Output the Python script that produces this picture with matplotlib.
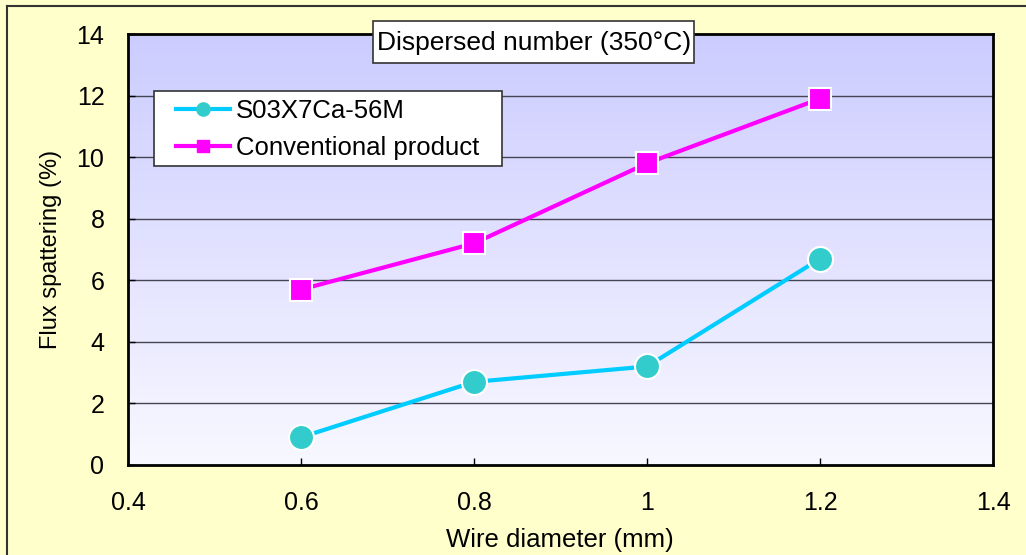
import numpy as np
import matplotlib
matplotlib.use("Agg")
import matplotlib.pyplot as plt
from matplotlib.patches import Rectangle
from matplotlib.lines import Line2D

plt.rcParams['font.family'] = ['Liberation Sans', 'DejaVu Sans']

# Data
wire_diameter = [0.6, 0.8, 1.0, 1.2]
s03x7ca_56m = [0.9, 2.7, 3.2, 6.7]
conventional = [5.7, 7.2, 9.8, 11.9]
series_names = ["S03X7Ca-56M", "Conventional product"]
x_ticks = [0.4, 0.6, 0.8, 1.0, 1.2, 1.4]
x_tick_labels = ["0.4", "0.6", "0.8", "1", "1.2", "1.4"]
y_ticks = [0, 2, 4, 6, 8, 10, 12, 14]
title_text = "Dispersed number (350\u00b0C)"
x_label = "Wire diameter (mm)"
y_label = "Flux spattering (%)"

W, H = 1026, 555
fig = plt.figure(figsize=(W / 100, H / 100), dpi=100)
fig.patch.set_facecolor("#FFFFCC")


def fx(px):
    return px / W


def fy(py):
    return 1 - py / H


# figure border (top and left visible)
fig.add_artist(Line2D([fx(7), fx(7)], [0, fy(6)], transform=fig.transFigure,
                      color="#333333", lw=1.5))
fig.add_artist(Line2D([fx(7), 1], [fy(6), fy(6)], transform=fig.transFigure,
                      color="#333333", lw=1.5))

left, right, top, bottom = 128, 993, 34, 465
ax = fig.add_axes([fx(left), fy(bottom), (right - left) / W, (bottom - top) / H])
ax.set_xlim(0.4, 1.4)
ax.set_ylim(0, 14)

# gradient background
grad = np.linspace(0, 1, 256).reshape(-1, 1)
c_top = np.array([0xCC, 0xCC, 0xFF]) / 255
c_bot = np.array([0xF8, 0xF8, 0xFF]) / 255
img = c_top[None, None, :] * (1 - grad[:, :, None]) + c_bot[None, None, :] * grad[:, :, None]
ax.imshow(img, extent=[0, 1, 0, 1], transform=ax.transAxes, aspect='auto', zorder=0)

for yv in y_ticks[1:-1]:
    ax.axhline(yv, color="#444455", lw=1.0, zorder=1)

ax.plot(wire_diameter, s03x7ca_56m, color="#00CCFF", lw=3.0, marker='o',
        markersize=18, markerfacecolor="#33CCCC", markeredgecolor="white",
        markeredgewidth=1.5, zorder=3)
ax.plot(wire_diameter, conventional, color="#FF00FF", lw=3.0, marker='s',
        markersize=16, markerfacecolor="#FF00FF", markeredgecolor="white",
        markeredgewidth=1.5, zorder=3)

ax.set_xticks(x_ticks)
ax.set_xticklabels(x_tick_labels)
ax.set_yticks(y_ticks)
ax.tick_params(axis='x', direction='in', length=5, width=1, labelsize=18, pad=19)
ax.tick_params(axis='y', direction='in', length=5, width=1, labelsize=18, pad=17)
for s in ax.spines.values():
    s.set_linewidth(2)
    s.set_color("black")

fig.text(fx(560), fy(540), x_label, ha='center', va='center', fontsize=18.5)
fig.text(fx(51), fy(249), y_label, ha='center', va='center', fontsize=17,
         rotation=90)

# title box
fig.add_artist(Rectangle((fx(373), fy(63)), fx(694) - fx(373), fy(21) - fy(63),
                         transform=fig.transFigure, facecolor='white',
                         edgecolor='#333333', lw=1.2, zorder=5))
fig.text(fx(534), fy(43), title_text, ha='center', va='center', fontsize=19,
         zorder=6)

# legend box
fig.add_artist(Rectangle((fx(154), fy(166)), fx(502) - fx(154), fy(91) - fy(166),
                         transform=fig.transFigure, facecolor='white',
                         edgecolor='#333333', lw=1.2, zorder=5))
handles = [
    Line2D([], [], color="#00CCFF", lw=3, marker='o', markersize=9.5,
           markerfacecolor="#33CCCC", markeredgecolor="#33CCCC"),
    Line2D([], [], color="#FF00FF", lw=3, marker='s', markersize=9,
           markerfacecolor="#FF00FF", markeredgecolor="#FF00FF"),
]
leg = fig.legend(handles, series_names, loc='center left',
                 bbox_to_anchor=(fx(176), fy(129.5)), fontsize=18.5,
                 frameon=False, handlelength=2.1,
                 handletextpad=0.23, borderpad=0.0, labelspacing=0.5,
                 borderaxespad=0)
leg.set_zorder(6)

fig.savefig("out.png", dpi=100, facecolor=fig.get_facecolor())
